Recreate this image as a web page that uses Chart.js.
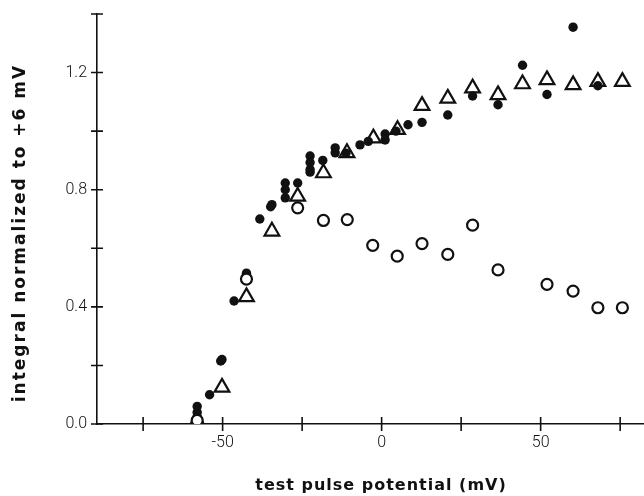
<!DOCTYPE html>
<html>
<head>
<meta charset="utf-8">
<script src="https://cdn.jsdelivr.net/npm/chart.js@4/dist/chart.umd.min.js"></script>
<style>
  html, body { margin: 0; padding: 0; background: #fff; }
  #wrap { width: 644px; height: 496px; }
</style>
</head>
<body>
<div id="wrap"><canvas id="plot"></canvas></div>
<script>
// test pulse potential (mV) -> integral normalized to +6 mV
var filledX = [-58, -58, -58, -54.1, -50.2, -50.6, -46.4, -42.5, -38.3, -34.5, -34.9,
  -30.3, -30.3, -30.3, -26.4, -22.5, -22.5, -22.5, -22.5, -18.5, -14.6, -14.6, -11.2,
  -6.8, -4.2, 1.1, 1.1, 4.5, 8.3, 12.7, 20.8, 28.6, 36.6, 44.3, 52.0, 60.2, 68];
var filledY = [0.06, 0.04, 0.025, 0.10, 0.22, 0.215, 0.42, 0.515, 0.70, 0.749, 0.742,
  0.823, 0.80, 0.772, 0.823, 0.915, 0.893, 0.869, 0.86, 0.90, 0.943, 0.926, 0.925,
  0.953, 0.965, 0.99, 0.97, 1.0, 1.022, 1.03, 1.055, 1.12, 1.09, 1.225, 1.125, 1.355, 1.155];

var openX = [-58, -42.5, -26.4, -18.3, -10.8, -2.8, 4.9, 12.7, 20.8, 28.6, 36.6, 52, 60.2, 68, 75.7];
var openY = [0.012, 0.495, 0.738, 0.695, 0.698, 0.61, 0.573, 0.616, 0.579, 0.679, 0.526, 0.477, 0.454, 0.397, 0.397];

var triX = [-58, -50.2, -42.5, -34.5, -26.4, -18.3, -10.9, -2.6, 5.0, 12.7, 20.8, 28.6, 36.6, 44.3, 52, 60.2, 68, 75.7];
var triY = [0.01, 0.125, 0.434, 0.658, 0.777, 0.857, 0.926, 0.976, 1.005, 1.087, 1.112, 1.147, 1.124, 1.161, 1.175, 1.158, 1.169, 1.169];

var xTicks = [-75, -50, -25, 0, 25, 50, 75];
var xLabels = [-50, 0, 50];
var yTicks = [0, 0.2, 0.4, 0.6, 0.8, 1.0, 1.2, 1.4];
var yLabels = [0, 0.4, 0.8, 1.2];

var xTitle = 'test pulse potential (mV)';
var yTitle = 'integral normalized to +6 mV';

function pts(xs, ys) {
  return xs.map(function (x, i) { return { x: x, y: ys[i] }; });
}

var ink = '#111';

// ticks that cross the axis line, plus the spaced-out axis titles
var axisDecor = {
  id: 'axisDecor',
  afterDraw: function (chart) {
    var ctx = chart.ctx, x = chart.scales.x, y = chart.scales.y;
    ctx.save();
    ctx.strokeStyle = ink;
    ctx.lineWidth = 1.6;
    ctx.beginPath();
    x.ticks.forEach(function (t) {
      var px = x.getPixelForValue(t.value);
      ctx.moveTo(px, y.bottom - 7);
      ctx.lineTo(px, y.bottom + 7);
    });
    y.ticks.forEach(function (t) {
      var py = y.getPixelForValue(t.value);
      ctx.moveTo(x.left - 6, py);
      ctx.lineTo(x.left + 6, py);
    });
    ctx.stroke();

    ctx.fillStyle = ink;
    ctx.textAlign = 'center';
    ctx.textBaseline = 'middle';
    ctx.font = 'bold 16px "DejaVu Sans", sans-serif';
    ctx.letterSpacing = '1px';
    ctx.fillText(xTitle, 381, 486);

    ctx.font = 'bold 17px "DejaVu Sans", sans-serif';
    ctx.letterSpacing = '2px';
    ctx.translate(21, 233);
    ctx.rotate(-Math.PI / 2);
    ctx.fillText(yTitle, 0, 0);
    ctx.restore();
  }
};

var tickFont = { family: 'Roboto, "Liberation Sans", sans-serif', size: 16, weight: 300 };

new Chart(document.getElementById('plot'), {
  type: 'scatter',
  data: {
    datasets: [{
      label: 'open circles',
      data: pts(openX, openY),
      pointStyle: 'circle',
      pointRadius: 5.5,
      pointBorderWidth: 2.2,
      pointBorderColor: ink,
      pointBackgroundColor: '#fff'
    }, {
      label: 'filled circles',
      data: pts(filledX, filledY),
      pointStyle: 'circle',
      pointRadius: 4.7,
      pointBorderWidth: 0,
      pointBackgroundColor: ink
    }, {
      label: 'triangles',
      data: pts(triX, triY),
      pointStyle: 'triangle',
      pointRadius: 8.5,
      pointBorderWidth: 2.2,
      pointBorderColor: ink,
      pointBackgroundColor: 'rgba(255,255,255,0)'
    }]
  },
  options: {
    responsive: true,
    maintainAspectRatio: false,
    animation: false,
    events: [],
    layout: { autoPadding: false, padding: { top: 14, right: 0, left: 0, bottom: 0 } },
    plugins: { legend: { display: false }, tooltip: { enabled: false } },
    scales: {
      x: {
        type: 'linear',
        min: -89.5,
        max: 82.5,
        afterBuildTicks: function (s) { s.ticks = xTicks.map(function (v) { return { value: v }; }); },
        afterFit: function (s) { s.height = 72; s.paddingLeft = 0; s.paddingRight = 0; },
        grid: { display: false, drawTicks: false },
        border: { display: true, color: ink, width: 1.6 },
        ticks: {
          padding: 9,
          color: ink,
          font: tickFont,
          maxRotation: 0,
          autoSkip: false,
          callback: function (v) { return xLabels.indexOf(v) >= 0 ? String(v) : ''; }
        }
      },
      y: {
        type: 'linear',
        min: 0,
        max: 1.4,
        afterBuildTicks: function (s) { s.ticks = yTicks.map(function (v) { return { value: v }; }); },
        afterFit: function (s) { s.width = 97; s.paddingTop = 0; s.paddingBottom = 0; },
        grid: { display: false, drawTicks: false },
        border: { display: true, color: ink, width: 1.6 },
        ticks: {
          padding: 10,
          color: ink,
          font: tickFont,
          autoSkip: false,
          callback: function (v) {
            var ok = yLabels.some(function (l) { return Math.abs(l - v) < 1e-6; });
            return ok ? v.toFixed(1) : '';
          }
        }
      }
    }
  },
  plugins: [axisDecor]
});
</script>
</body>
</html>
